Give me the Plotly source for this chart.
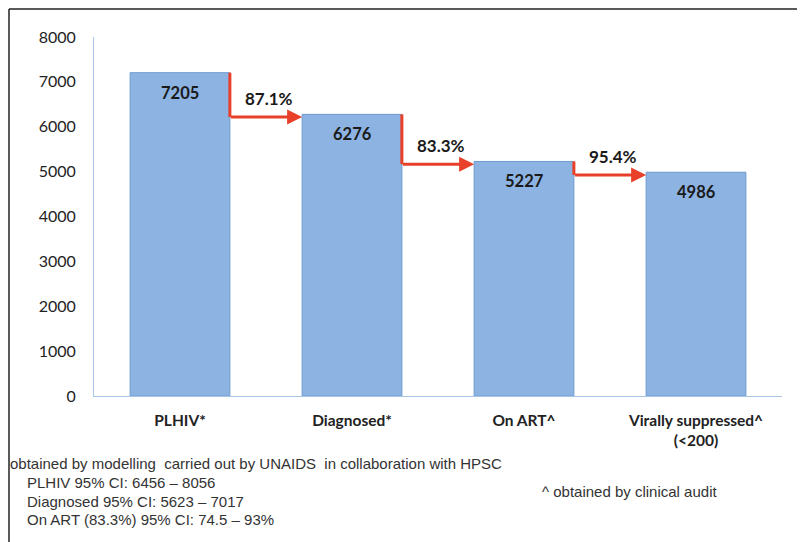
import plotly.graph_objects as go

categories = ["PLHIV*", "Diagnosed*", "On ART^", "Virally suppressed^<br>(<200)"]
values = [7205, 6276, 5227, 4986]
step_labels = ["87.1%", "83.3%", "95.4%"]
y_ticks = [0, 1000, 2000, 3000, 4000, 5000, 6000, 7000, 8000]
footnote_lines = [
    "obtained by modelling  carried out by UNAIDS  in collaboration with HPSC",
    "PLHIV 95% CI: 6456 \u2013 8056",
    "Diagnosed 95% CI: 5623 \u2013 7017",
    "On ART (83.3%) 95% CI: 74.5 \u2013 93%",
]
audit_note = "^ obtained by clinical audit"

# page body has an 8px margin, so the figure is drawn offset by 8px
OFF = 8
W, H = 805 - OFF, 542 - OFF
L, R, T, B = 94 - OFF, 23, 37 - OFF, 146
PW, PH = W - L - R, H - T - B
BARGAP = 0.42
half = (1 - BARGAP) / 2

def px(x):  # screen px -> paper
    return (x - OFF - L) / PW

def py(y):
    return (H - B - (y - OFF)) / PH

RED = "#e8402a"
FONT = "Lato, Arial, sans-serif"
NOTEFONT = "Liberation Sans, Arial"

fig = go.Figure()
fig.add_trace(go.Bar(
    x=list(range(len(categories))), y=values,
    marker=dict(color="#8db3e2", line=dict(color="#6e9ad0", width=1)),
    hoverinfo="skip",
))

annotations = []
shapes = []
for i, v in enumerate(values):
    annotations.append(dict(x=i, y=v, xref="x", yref="y", text=f"<b>{v}</b>",
                            showarrow=False, yanchor="top", yshift=-8,
                            font=dict(family=FONT, size=16.5, color="#1a1a1a")))

for i, lab in enumerate(step_labels):
    x0 = i + half
    x1 = i + 1 - half
    ylev = values[i + 1] - 60
    shapes.append(dict(type="line", xref="x", yref="y", x0=x0, x1=x0,
                       y0=values[i], y1=ylev, line=dict(color=RED, width=3)))
    annotations.append(dict(x=x1, y=ylev, ax=x0 - 0.003, ay=ylev, xref="x", yref="y",
                            axref="x", ayref="y", showarrow=True, arrowhead=2,
                            arrowsize=1, arrowwidth=3, arrowcolor=RED, text=""))
    annotations.append(dict(x=(x0 + x1) / 2 + 0.02, y=ylev, xref="x", yref="y",
                            text=f"<b>{lab}</b>", showarrow=False, yanchor="bottom",
                            yshift=6,
                            font=dict(family=FONT, size=17, color="#1a1a1a")))

# footnotes (screen coordinates)
fy = [463, 482, 501, 519]
fx = [8, 25, 25, 25]
for t, xx, yy in zip(footnote_lines, fx, fy):
    annotations.append(dict(x=px(xx), y=py(yy), xref="paper", yref="paper",
                            text=t, showarrow=False, xanchor="left", yanchor="middle",
                            font=dict(family=NOTEFONT, size=15, color="#333")))
annotations.append(dict(x=px(540), y=py(491), xref="paper", yref="paper",
                        text=audit_note, showarrow=False, xanchor="left", yanchor="middle",
                        font=dict(family=NOTEFONT, size=15, color="#333")))

# open frame: top, left and right sides only
frame = dict(color="#222", width=1.5)
shapes.append(dict(type="line", xref="paper", yref="paper",
                   x0=px(9), x1=px(800), y0=py(9), y1=py(9), line=frame))
shapes.append(dict(type="line", xref="paper", yref="paper",
                   x0=px(9), x1=px(9), y0=py(9), y1=py(545), line=frame))
shapes.append(dict(type="line", xref="paper", yref="paper",
                   x0=px(800), x1=px(800), y0=py(9), y1=py(545), line=frame))

fig.update_layout(
    width=W, height=H,
    margin=dict(l=L, r=R, t=T, b=B),
    paper_bgcolor="white", plot_bgcolor="white",
    bargap=BARGAP, showlegend=False,
    annotations=annotations, shapes=shapes,
    xaxis=dict(tickmode="array", tickvals=list(range(len(categories))),
               ticktext=[f"<b>{c}</b>" for c in categories],
               range=[-0.5, len(categories) - 0.5],
               showline=True, linecolor="#a9c6e8", linewidth=1,
               showgrid=False, zeroline=False,
               ticks="outside", ticklen=10, tickcolor="rgba(0,0,0,0)",
               tickfont=dict(family=FONT, size=15.5, color="#222")),
    yaxis=dict(range=[0, 8000], tickmode="array", tickvals=y_ticks,
               showline=True, linecolor="#a9c6e8", linewidth=1,
               showgrid=False, zeroline=False, ticks="outside", ticklen=14,
               tickcolor="rgba(0,0,0,0)",
               tickfont=dict(family=FONT, size=16, color="#222")),
)

fig.write_html("out.html")
